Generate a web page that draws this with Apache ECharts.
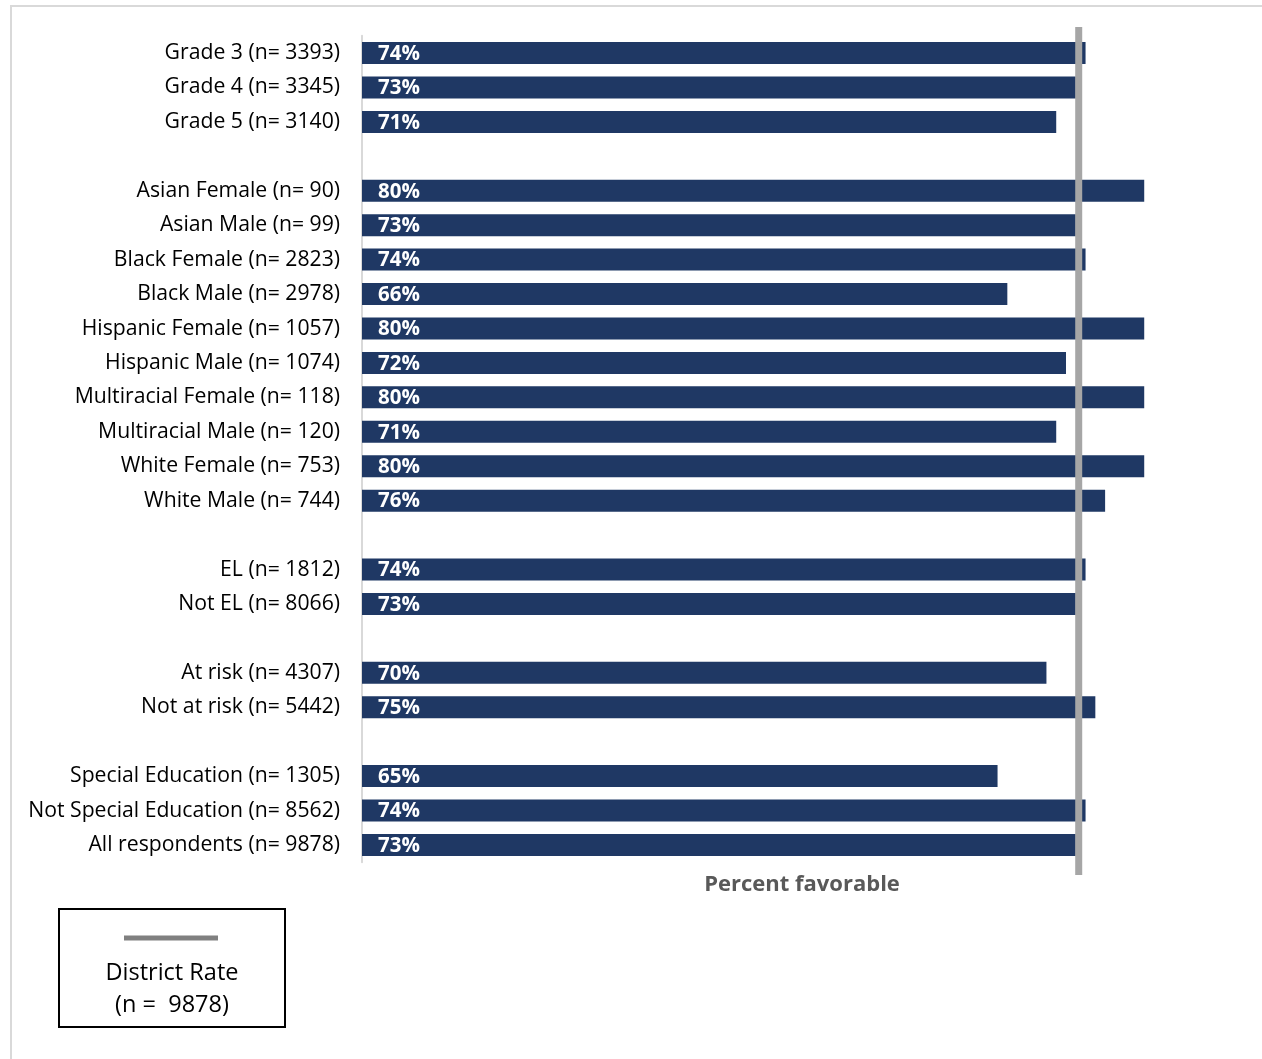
<!DOCTYPE html>
<html>
<head>
<meta charset="utf-8">
<script src="https://cdn.jsdelivr.net/npm/echarts@6/dist/echarts.min.js"></script>
<style>
  html, body { margin: 0; padding: 0; background: #fff; }
  #chart { width: 1262px; height: 1059px; }
</style>
</head>
<body>
<div id="chart"></div>
<script>
// Subgroup labels (blank entries are spacer rows between groups)
const categories = [
  'Grade 3 (n= 3393)', 'Grade 4 (n= 3345)', 'Grade 5 (n= 3140)', ' ',
  'Asian Female (n= 90)', 'Asian Male (n= 99)', 'Black Female (n= 2823)', 'Black Male (n= 2978)',
  'Hispanic Female (n= 1057)', 'Hispanic Male (n= 1074)', 'Multiracial Female (n= 118)',
  'Multiracial Male (n= 120)', 'White Female (n= 753)', 'White Male (n= 744)', '  ',
  'EL (n= 1812)', 'Not EL (n= 8066)', '   ',
  'At risk (n= 4307)', 'Not at risk (n= 5442)', '    ',
  'Special Education (n= 1305)', 'Not Special Education (n= 8562)', 'All respondents (n= 9878)'
];

// Percent favorable per subgroup
const percentFavorable = [
  74, 73, 71, null,
  80, 73, 74, 66, 80, 72, 80, 71, 80, 76, null,
  74, 73, null,
  70, 75, null,
  65, 74, 73
];

// District-wide reference rate
const districtRate = 73.3;
const districtLabel = ['District Rate', '(n =  9878)'];
const axisTitle = 'Percent favorable';

const FONT = '"Open Sans", "Noto Sans", sans-serif';

const chart = echarts.init(document.getElementById('chart'));

const gridLeft = 362, gridWidth = 880;

chart.setOption({
  animation: false,
  backgroundColor: '#fff',
  grid: [
    { left: gridLeft, width: gridWidth, top: 35.8, height: 826.4 },
    { left: gridLeft, width: gridWidth, top: 27, bottom: 1059 - 875 }
  ],
  xAxis: [
    {
      gridIndex: 0, type: 'value', min: 0, max: 90,
      axisLine: { show: false }, axisTick: { show: false },
      axisLabel: { show: false }, splitLine: { show: false },
      name: axisTitle, nameLocation: 'middle', nameGap: 12,
      nameTextStyle: {
        fontFamily: FONT, fontWeight: 'bold', fontSize: 22,
        color: '#595959', verticalAlign: 'top'
      }
    },
    {
      gridIndex: 1, type: 'value', min: 0, max: 90, show: false
    }
  ],
  yAxis: [
    {
      gridIndex: 0, type: 'category', inverse: true, data: categories,
      axisLine: { show: true, lineStyle: { color: '#d9d9d9', width: 2 } },
      axisTick: { show: false },
      axisLabel: {
        margin: 22, fontFamily: FONT, fontSize: 21.2, color: '#000',
        padding: [5, 0, 0, 0]
      },
      splitLine: { show: false }
    },
    {
      gridIndex: 1, type: 'value', min: 0, max: 1, show: false
    }
  ],
  series: [
    {
      type: 'bar',
      xAxisIndex: 0, yAxisIndex: 0,
      data: percentFavorable,
      barWidth: 22,
      itemStyle: { color: '#1f3864' },
      label: {
        show: true, position: 'insideLeft', distance: 16, offset: [0, 1],
        formatter: p => p.value + '%',
        fontFamily: FONT, fontWeight: 'bold', fontSize: 20.5, color: '#fff'
      },
      z: 2
    },
    {
      type: 'line',
      xAxisIndex: 1, yAxisIndex: 1,
      data: [[districtRate, 0], [districtRate, 1]],
      symbol: 'none',
      lineStyle: { color: '#a6a6a6', width: 7, cap: 'butt' },
      z: 5
    }
  ],
  graphic: [
    // outer frame
    {
      type: 'polyline', silent: true,
      shape: { points: [[11, 1059], [11, 6], [1262, 6]] },
      style: { stroke: '#d9d9d9', lineWidth: 2, fill: null }
    },
    // legend box
    {
      type: 'group', left: 58, top: 908,
      children: [
        {
          type: 'rect', shape: { x: 0, y: 0, width: 226, height: 118 },
          style: { fill: '#fff', stroke: '#000', lineWidth: 2 }
        },
        {
          type: 'line', shape: { x1: 65, y1: 29, x2: 159, y2: 29 },
          style: { stroke: '#808080', lineWidth: 5 }
        },
        {
          type: 'text', x: 113, y: 64,
          style: {
            text: districtLabel[0], fontFamily: FONT, fontSize: 23.5,
            fill: '#000', align: 'center', verticalAlign: 'middle'
          }
        },
        {
          type: 'text', x: 113, y: 96,
          style: {
            text: districtLabel[1], fontFamily: FONT, fontSize: 23.5,
            fill: '#000', align: 'center', verticalAlign: 'middle'
          }
        }
      ]
    }
  ]
});
</script>
</body>
</html>
